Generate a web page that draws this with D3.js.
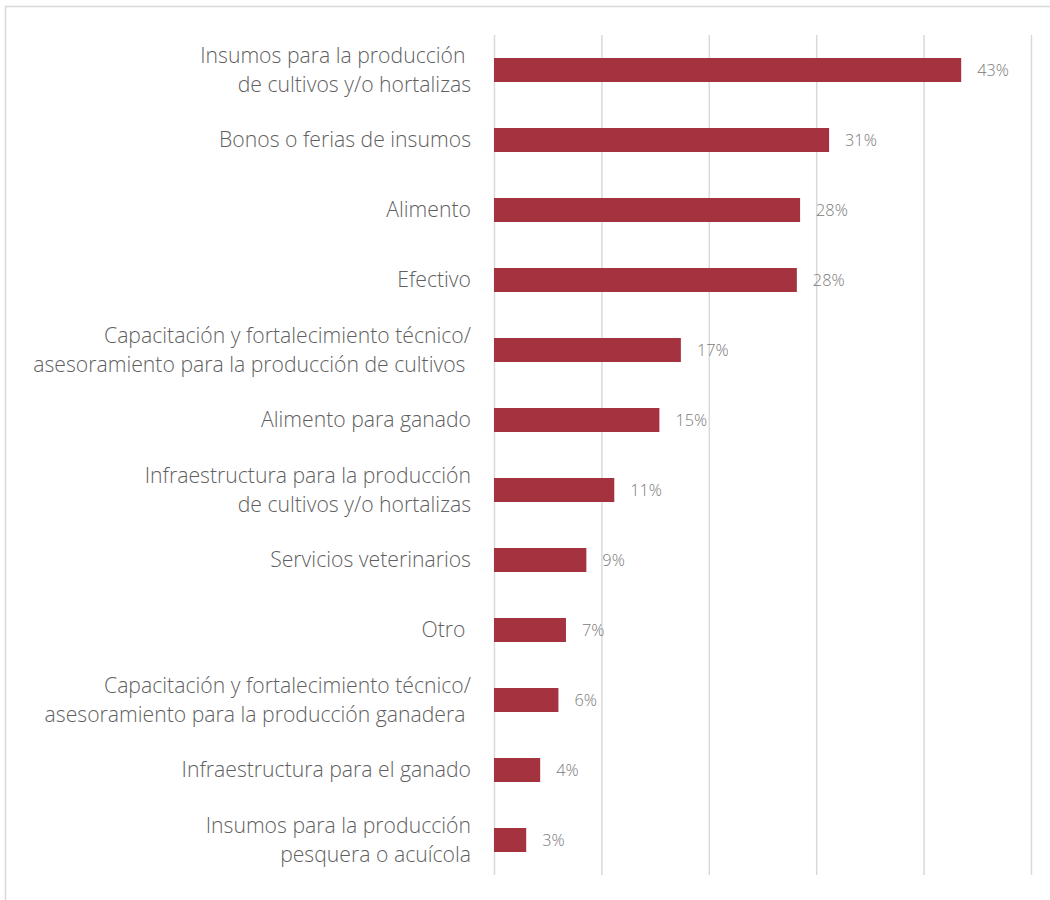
<!DOCTYPE html>
<html>
<head>
<meta charset="utf-8">
<script src="https://cdn.jsdelivr.net/npm/d3@7"></script>
<style>
  html, body { margin: 0; padding: 0; background: #ffffff; }
  svg { display: block; }
</style>
</head>
<body>
<svg id="chart" width="1050" height="900"></svg>
<script>
// ---- data ----
const categories = [
  ["Insumos para la producción ", "de cultivos y/o hortalizas"],
  ["Bonos o ferias de insumos"],
  ["Alimento"],
  ["Efectivo"],
  ["Capacitación y fortalecimiento técnico/", "asesoramiento para la producción de cultivos "],
  ["Alimento para ganado"],
  ["Infraestructura para la producción", "de cultivos y/o hortalizas"],
  ["Servicios veterinarios"],
  ["Otro "],
  ["Capacitación y fortalecimiento técnico/", "asesoramiento para la producción ganadera "],
  ["Infraestructura para el ganado"],
  ["Insumos para la producción", "pesquera o acuícola"]
];
const values = [43.5, 31.2, 28.5, 28.2, 17.4, 15.4, 11.2, 8.6, 6.7, 6.0, 4.3, 3.0];
const valueLabels = ["43%", "31%", "28%", "28%", "17%", "15%", "11%", "9%", "7%", "6%", "4%", "3%"];
const xTicks = [0, 10, 20, 30, 40, 50];

(function () {
  // ---- layout ----
  const svg = d3.select("#chart");
  const pLeft = 494, pRight = 1031, pTop = 35, pBottom = 875;
  const barColor = "#a5333f";

  // frame
  svg.append("rect")
    .attr("x", 5.5).attr("y", 6.5)
    .attr("width", 1060).attr("height", 900)
    .attr("fill", "none").attr("stroke", "#d9d9d9").attr("stroke-width", 1.5);

  const x = d3.scaleLinear().domain([0, 50]).range([pLeft, pRight]);
  const idx = d3.range(categories.length);
  const y = d3.scaleBand().domain(idx).range([pTop, pBottom]).paddingInner(0.657).paddingOuter(0.3285);

  // gridlines via axis
  const gx = svg.append("g")
    .attr("transform", `translate(0,${pBottom})`)
    .call(d3.axisBottom(x).tickValues(xTicks).tickSize(-(pBottom - pTop)).tickFormat(""));
  gx.select(".domain").remove();
  gx.selectAll(".tick line").attr("stroke", "#d9d9d9").attr("stroke-width", 1.5);

  // bars
  svg.append("g").selectAll("rect")
    .data(idx).join("rect")
    .attr("x", x(0))
    .attr("y", i => y(i))
    .attr("width", i => x(values[i]) - x(0))
    .attr("height", y.bandwidth())
    .attr("fill", barColor);

  // value labels
  svg.append("g").selectAll("text")
    .data(idx).join("text")
    .attr("x", i => x(values[i]) + 16)
    .attr("y", i => y(i) + y.bandwidth() / 2)
    .attr("dy", "0.35em")
    .attr("font-family", "'Open Sans', sans-serif")
    .attr("font-weight", 300)
    .attr("font-size", 16.3)
    .attr("fill", "#7a7a7a")
    .text(i => valueLabels[i]);

  // category labels
  const lineH = 29;
  const cat = svg.append("g").selectAll("text")
    .data(idx).join("text")
    .attr("x", 471)
    .attr("y", i => y(i) + y.bandwidth() / 2)
    .attr("text-anchor", "end")
    .attr("font-family", "'Open Sans', sans-serif")
    .attr("font-weight", 300)
    .attr("font-size", 21.2)
    .attr("fill", "#5f5f5f")
    .style("white-space", "pre");
  cat.each(function (i) {
    const lines = categories[i];
    const n = lines.length;
    d3.select(this).selectAll("tspan")
      .data(lines).join("tspan")
      .attr("x", 471)
      .attr("dy", (d, k) => k === 0 ? `${(-(n - 1) / 2) * lineH + 7}px` : `${lineH}px`)
      .text(d => d);
  });
})();
</script>
</body>
</html>
